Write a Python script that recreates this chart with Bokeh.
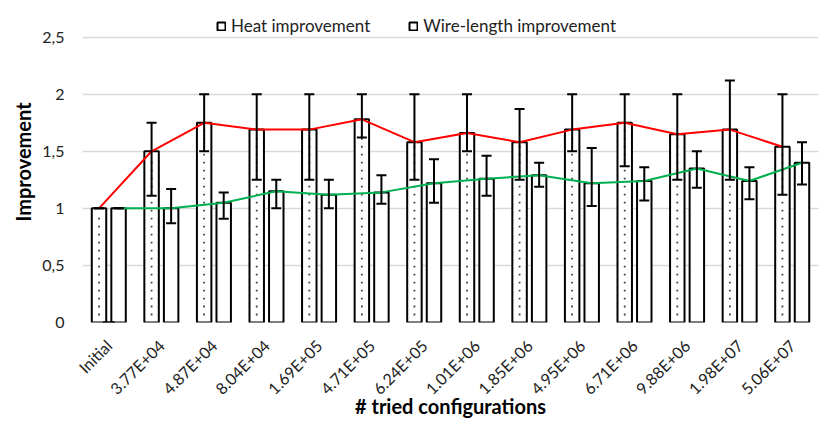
from bokeh.plotting import figure
from bokeh.models import (ColumnDataSource, FactorRange, Whisker, TeeHead, Legend, LegendItem,
                          FixedTicker, CustomJSTickFormatter)
from bokeh.transform import dodge
from bokeh.embed import file_html
from bokeh.resources import INLINE
import math

categories = ["Initial", "3.77E+04", "4.87E+04", "8.04E+04", "1.69E+05", "4.71E+05", "6.24E+05",
              "1.01E+06", "1.85E+06", "4.95E+06", "6.71E+06", "9.88E+06", "1.98E+07", "5.06E+07"]
heat = [1.0, 1.50, 1.75, 1.69, 1.69, 1.78, 1.58, 1.66, 1.58, 1.69, 1.75, 1.65, 1.69, 1.54]
heat_upper = [1.0, 1.75, 2.0, 2.0, 2.0, 2.0, 2.0, 2.0, 1.87, 2.0, 2.0, 2.0, 2.12, 2.0]
heat_lower = [1.0, 1.11, 1.50, 1.25, 1.25, 1.62, 1.25, 1.50, 1.25, 1.50, 1.37, 1.25, 1.25, 1.12]
wire = [1.0, 1.0, 1.05, 1.15, 1.12, 1.14, 1.22, 1.26, 1.29, 1.22, 1.24, 1.35, 1.24, 1.40]
wire_upper = [1.0, 1.17, 1.14, 1.25, 1.25, 1.29, 1.43, 1.46, 1.40, 1.53, 1.36, 1.50, 1.36, 1.58]
wire_lower = [1.0, 0.87, 0.91, 1.0, 1.0, 1.04, 1.05, 1.11, 1.19, 1.02, 1.07, 1.18, 1.08, 1.21]
y_ticks = [0, 0.5, 1, 1.5, 2, 2.5]

FONT = "Lato"
OFF = 0.186
BW = 0.275
DOT_STEP = 0.07

src = ColumnDataSource(dict(cat=categories, heat=heat, hu=heat_upper, hl=heat_lower,
                            wire=wire, wu=wire_upper, wl=wire_lower))

# dotted fill pattern of the heat bars (decoration derived from the heat values)
dot_cat, dot_y = [], []
for c, h in zip(categories, heat):
    k = 1
    while k * DOT_STEP < h - 0.03:
        dot_cat.append(c)
        dot_y.append(k * DOT_STEP)
        k += 1
dots = ColumnDataSource(dict(cat=dot_cat, y=dot_y))

# frame spans from the legend row down to 0; gridlines stop at 2.5
Y_TOP = 2.5 * 321.3 / 285.6

p = figure(width=831, height=424, x_range=FactorRange(factors=categories, range_padding=0),
           y_range=(0, Y_TOP), output_backend="svg", toolbar_location=None,
           min_border_left=82, min_border_right=13, min_border_top=1, min_border_bottom=102)
p.outline_line_color = None

hx = dodge("cat", -OFF, range=p.x_range)
wx = dodge("cat", OFF, range=p.x_range)

p.vbar(x=hx, top="heat", width=BW, source=src, fill_color="white", line_color="black",
       line_width=2)
p.vbar(x=wx, top="wire", width=BW, source=src, fill_color="white", line_color="black",
       line_width=2)
p.scatter(x=hx, y="y", source=dots, marker="square", size=1.8, fill_color="#444444",
          line_color=None)

p.line(x=hx, y="heat", source=src, line_color="#ff0000", line_width=2)
p.line(x=wx, y="wire", source=src, line_color="#00b050", line_width=2)

for base, up, lo in ((hx, "hu", "hl"), (wx, "wu", "wl")):
    w = Whisker(base=base, upper=up, lower=lo, source=src, line_color="black", line_width=2,
                level="annotation",
                upper_head=TeeHead(size=10, line_width=2, line_color="black"),
                lower_head=TeeHead(size=10, line_width=2, line_color="black"))
    p.add_layout(w)

legend_src = ColumnDataSource(dict(x=["Initial"], top=[-1.0], bottom=[-2.0]))
r1 = p.vbar(x="x", top="top", bottom="bottom", width=0.2, source=legend_src,
            fill_color="white", line_color="black", line_width=2)
r2 = p.vbar(x="x", top="top", bottom="bottom", width=0.2, source=legend_src,
            fill_color="white", line_color="black", line_width=2)
legend = Legend(items=[LegendItem(label="Heat improvement", renderers=[r1]),
                       LegendItem(label="Wire-length improvement", renderers=[r2])],
                orientation="horizontal", location=(134, 286), border_line_color=None,
                background_fill_alpha=0, label_text_font=FONT, label_text_font_size="17px",
                label_text_color="#222222", spacing=38, glyph_width=10, glyph_height=10,
                label_standoff=5, margin=0, padding=2)
p.add_layout(legend, "center")

p.yaxis.ticker = FixedTicker(ticks=y_ticks)
p.yaxis.formatter = CustomJSTickFormatter(code="return tick.toString().replace('.', ',');")
for ax in (p.xaxis, p.yaxis):
    ax.axis_line_color = None
    ax.major_tick_line_color = None
    ax.minor_tick_line_color = None
    ax.major_label_text_font = FONT
    ax.major_label_text_font_size = "16px"
    ax.major_label_text_color = "#222222"
    ax.axis_label_text_font = FONT
    ax.axis_label_text_font_style = "bold"
    ax.axis_label_text_font_size = "20px"
    ax.axis_label_text_color = "black"
p.xaxis.major_label_orientation = math.pi / 4
p.xaxis.major_label_standoff = 14
p.xaxis.axis_label = "# tried configurations"
p.yaxis.axis_label = "Improvement"
p.xaxis.axis_label_standoff = -14
p.yaxis.major_label_standoff = 12
p.yaxis.axis_label_standoff = 4

p.xgrid.grid_line_color = None
p.ygrid.grid_line_color = "#d9d9d9"
p.ygrid.grid_line_width = 1.5

open("out.html", "w").write(file_html(p, INLINE))
